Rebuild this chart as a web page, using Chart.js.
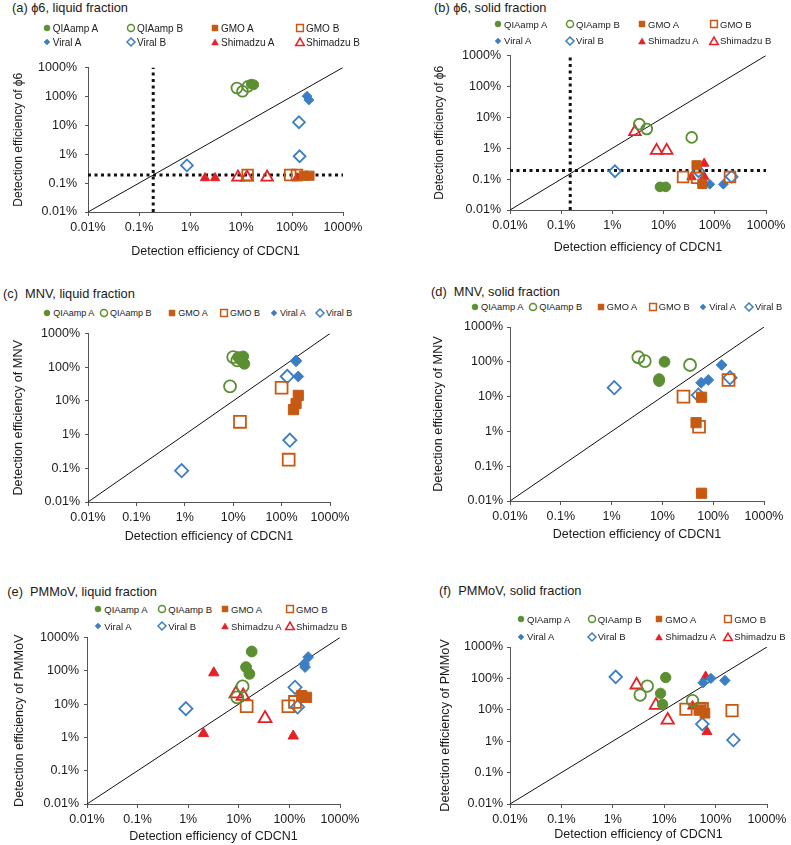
<!DOCTYPE html>
<html>
<head>
<meta charset="utf-8">
<title>Detection efficiency vs CDCN1</title>
<script src="https://cdn.jsdelivr.net/npm/chart.js@4.4.0/dist/chart.umd.min.js"></script>
<style>
    body { margin: 0; width: 791px; height: 845px; position: relative; overflow: hidden; background: #fff;
           font-family: "Liberation Sans", Arial, sans-serif; }
    .panel-title { position: absolute; font-size: 12.8px; color: #1a1a1a; white-space: pre; line-height: 1; transform: translateY(-50%); }
    .legend-item { position: absolute; color: #222; white-space: nowrap; display: flex; align-items: center;
                   transform: translateY(-50%); z-index: 2; }
    .legend-item canvas { display: block; }
    canvas.chart { position: absolute; }
</style>
</head>
<body>
<script>
/* ---------- data (values in %) ---------- */

const tickValues = [0.01, 0.1, 1, 10, 100, 1000];
const tickLabels = ['0.01%', '0.1%', '1%', '10%', '100%', '1000%'];
const identityLine = [0.01, 1000];

// (a) phi6, liquid fraction
const aQIAampA = [[15.9, 267], [17.8, 253]];
const aQIAampB = [[8.3, 195], [10.7, 150], [13.7, 222]];
const aGMOA = [[170, 0.18], [220, 0.18]];
const aGMOB = [[13.5, 0.19], [92, 0.19], [125, 0.19]];
const aViralA = [[197, 102], [215, 75]];
const aViralB = [[137, 12.8], [141, 0.85], [0.87, 0.41]];
const aShimA = [[1.97, 0.15], [3.1, 0.15], [125, 0.15]];
const aShimB = [[8.7, 0.16], [13.1, 0.16], [32.5, 0.16]];
const aLod = [0.19, 0.19];

// (b) phi6, solid fraction
const bQIAampA = [[8.5, 0.056], [11, 0.056]];
const bQIAampB = [[3.35, 6.0], [4.7, 4.2], [35.4, 2.24]];
const bGMOA = [[44, 0.28], [57, 0.07]];
const bGMOB = [[24, 0.117], [45, 0.11], [198, 0.117]];
const bViralA = [[57, 0.068], [80, 0.068], [147, 0.068]];
const bViralB = [[1.12, 0.18], [48, 0.18], [213, 0.12]];
const bShimA = [[62, 0.32], [35, 0.117], [62, 0.12]];
const bShimB = [[2.75, 3.4], [7.3, 0.84], [11.5, 0.84]];
const bLod = [0.15, 0.19];

// (c) MNV, liquid fraction
const cQIAampA = [[12.7, 200], [16.1, 209], [17, 126], [14, 170]];
const cQIAampB = [[10, 200], [12.2, 159], [8.6, 27]];
const cGMOA = [[221, 14.6], [199, 8.3], [176, 5.5]];
const cGMOB = [[100, 24.6], [13.8, 2.4], [140, 0.18]];
const cViralA = [[199, 159], [199, 150], [221, 53]];
const cViralB = [[131, 53], [148, 0.68], [0.86, 0.085]];

// (d) MNV, solid fraction
const dQIAampA = [[11, 100], [8.6, 31.9], [8.6, 28]];
const dQIAampB = [[3.36, 135], [4.5, 105], [35, 81]];
const dGMOA = [[59, 9.6], [46, 1.78], [59, 0.0167]];
const dGMOB = [[26, 10], [52.6, 1.36], [200, 30]];
const dViralA = [[58, 25], [80, 30], [147, 81]];
const dViralB = [[1.13, 18], [51, 11.1], [214, 35]];

// (e) PMMoV, liquid fraction
const eQIAampA = [[18, 380], [13.9, 129], [16.2, 81]];
const eQIAampB = [[11.9, 34], [9.3, 16]];
const eGMOA = [[218, 16], [175, 18]];
const eGMOB = [[14.3, 8.6], [95.5, 8.6], [129, 11.6]];
const eViralA = [[235, 258], [204, 129], [196, 160]];
const eViralB = [[129, 32], [145, 8.2], [0.9, 7.3]];
const eShimA = [[3.2, 87], [2, 1.3], [119, 1.1]];
const eShimB = [[8.8, 20.6], [12.2, 17.5], [33, 3.7]];

// (f) PMMoV, solid fraction
const fQIAampA = [[10.7, 107], [8.5, 33.5], [9.3, 15]];
const fQIAampB = [[4.7, 57], [3.4, 29.5], [35.6, 19.5]];
const fGMOA = [[62, 7.8], [50, 9.9]];
const fGMOB = [[26.5, 10.4], [50, 10.4], [55, 11], [209, 9.4]];
const fViralA = [[57, 73], [81, 100], [152, 86]];
const fViralB = [[1.14, 112], [55, 3.5], [222, 1.09]];
const fShimA = [[64, 112], [35.5, 13], [68, 2]];
const fShimB = [[2.9, 62], [6.9, 14], [11.7, 4.7]];

/* ---------- styles ---------- */

const GREEN = '#5b8f31', ORANGE = '#c65a13', BLUE = '#3c7ec4', RED = '#e42127';
const FONT = '"Liberation Sans", Arial, sans-serif';

const STYLES = {
    'QIAamp A':   { shape: 'circle',   color: GREEN,  filled: true,  r: 4.5, lr: 3 },
    'QIAamp B':   { shape: 'circle',   color: GREEN,  filled: false, r: 5,   lr: 3.5 },
    'GMO A':      { shape: 'rect',     color: ORANGE, filled: true,  r: 6,   lr: 4.2 },
    'GMO B':      { shape: 'rect',     color: ORANGE, filled: false, r: 7,   lr: 4.8 },
    'Viral A':    { shape: 'rectRot',  color: BLUE,   filled: true,  r: 4.5, lr: 3 },
    'Viral B':    { shape: 'rectRot',  color: BLUE,   filled: false, r: 5.5, lr: 4 },
    'Shimadzu A': { shape: 'triangle', color: RED,    filled: true,  r: 5,   lr: 4 },
    'Shimadzu B': { shape: 'triangle', color: RED,    filled: false, r: 6.2, lr: 5 }
};

const PANELS = [
    { title: '(a) ϕ6, liquid fraction', titleX: 12, titleY: 8, yTitle: 'Detection efficiency of ϕ6', yTitleSize: 12,
      left: 0, top: 52, width: 395, height: 210, plot: { l: 88, r: 343, t: 64, b: 212 }, yTitleX: 18.3, xTitleY: 251.7,
      k: 1.08, yTickPad: 8, legendSize: 10,
      lod: aLod,
      series: { 'QIAamp A': aQIAampA, 'QIAamp B': aQIAampB, 'GMO A': aGMOA, 'GMO B': aGMOB,
                'Viral A': aViralA, 'Viral B': aViralB, 'Shimadzu A': aShimA, 'Shimadzu B': aShimB },
      legend: { cols: [46.7, 131, 215, 300], rows: [28.3, 42.3] } },
    { title: '(b) ϕ6, solid fraction', titleX: 434, titleY: 8, yTitle: 'Detection efficiency of ϕ6', yTitleSize: 12,
      left: 395, top: 42, width: 396, height: 216, plot: { l: 510, r: 766, t: 54, b: 210 }, yTitleX: 440, xTitleY: 248,
      k: 1.08, yTickPad: 6, legendSize: 9.5,
      lod: bLod,
      series: { 'QIAamp A': bQIAampA, 'QIAamp B': bQIAampB, 'GMO A': bGMOA, 'GMO B': bGMOB,
                'Viral A': bViralA, 'Viral B': bViralB, 'Shimadzu A': bShimA, 'Shimadzu B': bShimB },
      legend: { cols: [498, 570, 642, 714], rows: [24, 40.7] } },
    { title: '(c)  MNV, liquid fraction', titleX: 3, titleY: 294, yTitle: 'Detection efficiency of MNV', yTitleSize: 12.7,
      left: 0, top: 321, width: 395, height: 226, plot: { l: 88, r: 330, t: 333, b: 502 }, yTitleX: 18, xTitleY: 536.7,
      k: 1.2, yTickPad: 5, legendSize: 9,
      series: { 'QIAamp A': cQIAampA, 'QIAamp B': cQIAampB, 'GMO A': cGMOA, 'GMO B': cGMOB,
                'Viral A': cViralA, 'Viral B': cViralB },
      legend: { cols: [47.3, 104, 172.3, 224, 274, 320], rows: [313.3] } },
    { title: '(d)  MNV, solid fraction', titleX: 431, titleY: 291.7, yTitle: 'Detection efficiency of MNV', yTitleSize: 12.7,
      left: 395, top: 315, width: 396, height: 230, plot: { l: 510, r: 764, t: 327, b: 501 }, yTitleX: 438, xTitleY: 535,
      k: 1.2, yTickPad: 4, legendSize: 9.3,
      series: { 'QIAamp A': dQIAampA, 'QIAamp B': dQIAampB, 'GMO A': dGMOA, 'GMO B': dGMOB,
                'Viral A': dViralA, 'Viral B': dViralB },
      legend: { cols: [475, 533.3, 600.7, 652.7, 703.3, 749], rows: [307.3] } },
    { title: '(e)  PMMoV, liquid fraction', titleX: 7.3, titleY: 592.3, yTitle: 'Detection efficiency of PMMoV', yTitleSize: 12.7,
      left: 0, top: 625, width: 395, height: 220, plot: { l: 87, r: 340, t: 637, b: 804 }, yTitleX: 19, xTitleY: 836.7,
      k: 1.2, yTickPad: 5, legendSize: 9.5,
      series: { 'QIAamp A': eQIAampA, 'QIAamp B': eQIAampB, 'GMO A': eGMOA, 'GMO B': eGMOB,
                'Viral A': eViralA, 'Viral B': eViralB, 'Shimadzu A': eShimA, 'Shimadzu B': eShimB },
      legend: { cols: [98.3, 162.3, 225, 290], rows: [609, 626] } },
    { title: '(f)  PMMoV, solid fraction', titleX: 439, titleY: 590.7, yTitle: 'Detection efficiency of PMMoV', yTitleSize: 12.7,
      left: 395, top: 635, width: 396, height: 210, plot: { l: 510, r: 767, t: 647, b: 804 }, yTitleX: 445, xTitleY: 835,
      k: 1.15, yTickPad: 4, legendSize: 9.5,
      series: { 'QIAamp A': fQIAampA, 'QIAamp B': fQIAampB, 'GMO A': fGMOA, 'GMO B': fGMOB,
                'Viral A': fViralA, 'Viral B': fViralB, 'Shimadzu A': fShimA, 'Shimadzu B': fShimB },
      legend: { cols: [521, 591.7, 659.3, 728.3], rows: [619.3, 636.7] } }
];

/* ---------- legend marker (same geometry as Chart.js point styles) ---------- */

function drawMarker(ctx, shape, r, x, y) {
    ctx.beginPath();
    if (shape === 'circle') {
        ctx.arc(x, y, r, 0, Math.PI * 2);
    } else if (shape === 'rect') {
        const s = Math.SQRT1_2 * r;
        ctx.rect(x - s, y - s, 2 * s, 2 * s);
    } else if (shape === 'rectRot') {
        ctx.moveTo(x - r, y); ctx.lineTo(x, y - r); ctx.lineTo(x + r, y); ctx.lineTo(x, y + r);
        ctx.closePath();
    } else {
        ctx.moveTo(x, y - r);
        ctx.lineTo(x + Math.sin(2 * Math.PI / 3) * r, y - Math.cos(2 * Math.PI / 3) * r);
        ctx.lineTo(x + Math.sin(4 * Math.PI / 3) * r, y - Math.cos(4 * Math.PI / 3) * r);
        ctx.closePath();
    }
}

function addLegend(panel) {
    const names = Object.keys(panel.series);
    const nCols = panel.legend.cols.length;
    names.forEach((name, i) => {
        const st = STYLES[name];
        const x = panel.legend.cols[i % nCols];
        const y = panel.legend.rows[Math.floor(i / nCols)];
        const item = document.createElement('div');
        item.className = 'legend-item';
        item.style.left = (x - 6) + 'px';
        item.style.top = y + 'px';
        item.style.fontSize = panel.legendSize + 'px';
        const c = document.createElement('canvas');
        c.width = 12; c.height = 12;
        const ctx = c.getContext('2d');
        ctx.fillStyle = st.filled ? st.color : 'rgba(0,0,0,0)';
        ctx.strokeStyle = st.color;
        ctx.lineWidth = st.filled ? 0.5 : 1.5;
        drawMarker(ctx, st.shape, st.lr, 6, st.shape === 'triangle' ? 7 : 6);
        ctx.fill();
        ctx.stroke();
        item.appendChild(c);
        const span = document.createElement('span');
        span.textContent = name;
        item.appendChild(span);
        document.body.appendChild(item);
    });
}

function addTitle(panel) {
    const t = document.createElement('div');
    t.className = 'panel-title';
    t.style.left = panel.titleX + 'px';
    t.style.top = panel.titleY + 'px';
    t.textContent = panel.title;
    document.body.appendChild(t);
}

function toPoints(arr) {
    return arr.map(p => ({ x: p[0], y: p[1] }));
}

function makeChart(panel) {
    const canvas = document.createElement('canvas');
    canvas.className = 'chart';
    canvas.width = panel.width;
    canvas.height = panel.height;
    canvas.style.left = panel.left + 'px';
    canvas.style.top = panel.top + 'px';
    document.body.appendChild(canvas);

    const datasets = [];
    Object.keys(panel.series).forEach(name => {
        const st = STYLES[name];
        datasets.push({
            label: name,
            data: toPoints(panel.series[name]),
            pointStyle: st.shape,
            pointRadius: st.r * panel.k,
            pointHoverRadius: st.r * panel.k,
            backgroundColor: st.filled ? st.color : 'rgba(0,0,0,0)',
            borderColor: st.color,
            pointBorderWidth: st.filled ? 1 : 1.8,
            showLine: false
        });
    });

    // LOD dotted lines (a, b)
    if (panel.lod) {
        datasets.push({
            label: 'LOD x',
            data: identityLine.map(v => ({ x: panel.lod[0], y: v })),
            showLine: true, borderColor: '#111', borderWidth: 3, borderDash: [3, 3.5],
            pointRadius: 0, fill: false
        });
        datasets.push({
            label: 'LOD y',
            data: identityLine.map(v => ({ x: v, y: panel.lod[1] })),
            showLine: true, borderColor: '#111', borderWidth: 3, borderDash: [3, 3.5],
            pointRadius: 0, fill: false
        });
    }

    // 1:1 line
    datasets.push({
        label: '1:1',
        data: identityLine.map(v => ({ x: v, y: v })),
        showLine: true, borderColor: '#111', borderWidth: 1,
        pointRadius: 0, fill: false
    });

    const lh = 12.5 * 1.2;
    const yLh = panel.yTitleSize * 1.2;
    const yAxisWidth = panel.plot.l - panel.left;
    const xAxisHeight = panel.top + panel.height - panel.plot.b;
    const xTitlePad = Math.max(0, panel.top + panel.height - panel.xTitleY - lh / 2);
    const yTitlePad = Math.max(0, panel.yTitleX - panel.left - yLh / 2);

    const tickOpts = {
        callback: v => tickLabels[tickValues.indexOf(v)],
        font: { family: FONT, size: 12.5 },
        color: '#1a1a1a',
        autoSkip: false,
        maxRotation: 0
    };

    new Chart(canvas, {
        type: 'scatter',
        data: { datasets: datasets },
        options: {
            responsive: false,
            animation: false,
            layout: { padding: { left: 0, top: panel.plot.t - panel.top, right: panel.left + panel.width - panel.plot.r, bottom: 0 } },
            plugins: { legend: { display: false }, tooltip: { enabled: false } },
            scales: {
                x: {
                    type: 'logarithmic', position: 'bottom', min: 0.01, max: 1000,
                    afterBuildTicks: s => { s.ticks = tickValues.map(v => ({ value: v })); },
                    afterFit: s => { s.height = xAxisHeight; },
                    ticks: Object.assign({ padding: 4 }, tickOpts),
                    grid: { display: true, drawOnChartArea: false, drawTicks: true, tickLength: 4, color: '#555' },
                    border: { display: true, color: '#555', width: 1 },
                    title: { display: true, text: 'Detection efficiency of CDCN1', color: '#1a1a1a',
                             font: { family: FONT, size: 12.5 }, padding: { top: 0, bottom: xTitlePad } }
                },
                y: {
                    type: 'logarithmic', position: 'left', min: 0.01, max: 1000,
                    afterBuildTicks: s => { s.ticks = tickValues.map(v => ({ value: v })); },
                    afterFit: s => { s.width = yAxisWidth; },
                    ticks: Object.assign({ padding: panel.yTickPad }, tickOpts),
                    grid: { display: true, drawOnChartArea: false, drawTicks: true, tickLength: 3, color: '#555' },
                    border: { display: true, color: '#555', width: 1 },
                    title: { display: true, text: panel.yTitle, color: '#1a1a1a',
                             font: { family: FONT, size: panel.yTitleSize }, padding: { top: yTitlePad, bottom: 0 } }
                }
            }
        }
    });
}

PANELS.forEach(p => {
    makeChart(p);
    addTitle(p);
    addLegend(p);
});
</script>
</body>
</html>
